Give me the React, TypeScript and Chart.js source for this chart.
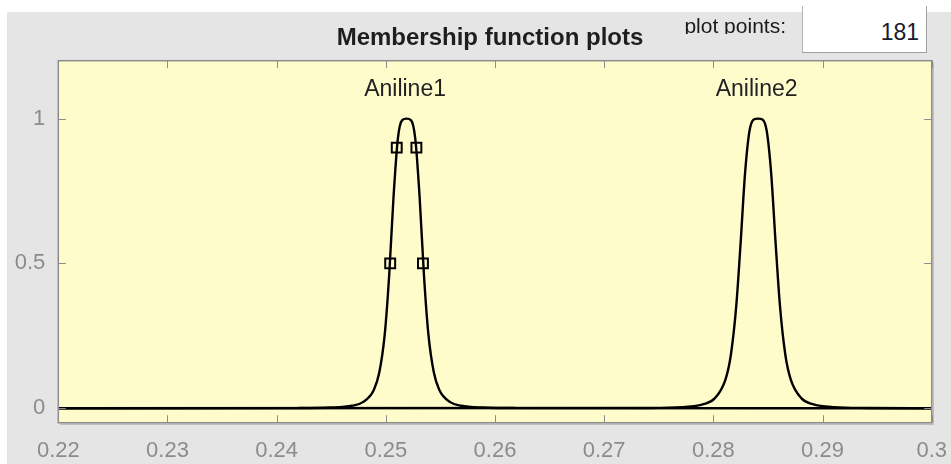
import React, { useEffect, useRef } from "react";
import { Chart, registerables } from "chart.js";

Chart.register(...registerables);

const FONT = "'Liberation Sans', Arial, Helvetica, sans-serif";

const TITLE = "Membership function plots";
const PLOT_POINTS_LABEL = "plot points:";
const PLOT_POINTS_VALUE = "181";

const X_TICKS = [0.22, 0.23, 0.24, 0.25, 0.26, 0.27, 0.28, 0.29, 0.3];
const X_TICK_LABELS = ["0.22", "0.23", "0.24", "0.25", "0.26", "0.27", "0.28", "0.29", "0.3"];
const Y_TICKS = [0, 0.5, 1];
const Y_TICK_LABELS = ["0", "0.5", "1"];

const MF_NAMES = ["Aniline1", "Aniline2"];
const MF_PEAKS = [0.2519, 0.2841];
const MF_LABEL_Y = 1.1;

const ANILINE1_X = [0.22, 0.2419, 0.2449, 0.2469, 0.2479, 0.2489, 0.2494, 0.2499, 0.2503, 0.2507, 0.2511, 0.2515, 0.2519, 0.2523, 0.2527, 0.2531, 0.2535, 0.2539, 0.2544, 0.2549, 0.2559, 0.2569, 0.2589, 0.2619, 0.3];
const ANILINE1_Y = [0, 0.0005, 0.0023, 0.0087, 0.021, 0.063, 0.123, 0.255, 0.455, 0.726, 0.93, 0.995, 1, 0.995, 0.93, 0.726, 0.455, 0.255, 0.123, 0.063, 0.021, 0.0087, 0.0023, 0.0005, 0];

const ANILINE2_X = [0.22, 0.2741, 0.2771, 0.2791, 0.2801, 0.2811, 0.2816, 0.2821, 0.2825, 0.2829, 0.2833, 0.2837, 0.2841, 0.2845, 0.2849, 0.2853, 0.2857, 0.2861, 0.2866, 0.2871, 0.2881, 0.2891, 0.2911, 0.2941, 0.3];
const ANILINE2_Y = [0, 0.0009, 0.0036, 0.0138, 0.033, 0.098, 0.183, 0.354, 0.572, 0.809, 0.955, 0.997, 1, 0.997, 0.955, 0.809, 0.572, 0.354, 0.183, 0.098, 0.033, 0.0138, 0.0036, 0.0009, 0];

const MARKER_X = [0.2504, 0.251, 0.2528, 0.2534];
const MARKER_Y = [0.5, 0.9, 0.9, 0.5];

const TITLE_CENTER_X = 490;
const TITLE_MIDDLE_Y = 38.3;

const matlabAxesPlugin = {
  id: "matlabAxes",
  beforeDraw(chart: any) {
    const { ctx, chartArea: a } = chart;
    ctx.save();
    ctx.fillStyle = "#fffccc";
    ctx.fillRect(a.left, a.top, a.right - a.left, a.bottom - a.top);
    ctx.restore();
  },
  afterDraw(chart: any) {
    const { ctx, chartArea: a, scales } = chart;
    const xs = scales.x;
    const ys = scales.y;
    ctx.save();
    // shadow on right / bottom
    ctx.strokeStyle = "#bdbdbd";
    ctx.lineWidth = 1.5;
    ctx.beginPath();
    ctx.moveTo(a.right + 1.5, a.top + 2);
    ctx.lineTo(a.right + 1.5, a.bottom + 1.5);
    ctx.lineTo(a.left + 2, a.bottom + 1.5);
    ctx.stroke();
    // box
    ctx.strokeStyle = "#8c8c8c";
    ctx.lineWidth = 1.5;
    ctx.strokeRect(a.left, a.top, a.right - a.left, a.bottom - a.top);
    // inside ticks
    const tl = 7.5;
    ctx.lineWidth = 1;
    ctx.strokeStyle = "#8c8c8c";
    ctx.beginPath();
    X_TICKS.forEach((v) => {
      const px = Math.round(xs.getPixelForValue(v)) + 0.5;
      ctx.moveTo(px, a.bottom);
      ctx.lineTo(px, a.bottom - tl);
      ctx.moveTo(px, a.top);
      ctx.lineTo(px, a.top + tl);
    });
    Y_TICKS.forEach((v) => {
      const py = Math.round(ys.getPixelForValue(v)) + 0.5;
      ctx.moveTo(a.left, py);
      ctx.lineTo(a.left + tl, py);
      ctx.moveTo(a.right, py);
      ctx.lineTo(a.right - tl, py);
    });
    ctx.stroke();
    // membership function names
    ctx.fillStyle = "#222222";
    ctx.font = `23px ${FONT}`;
    ctx.textAlign = "center";
    ctx.textBaseline = "middle";
    MF_NAMES.forEach((name, i) => {
      ctx.fillText(name, xs.getPixelForValue(MF_PEAKS[i]) - 1.5, ys.getPixelForValue(MF_LABEL_Y));
    });
    // title
    ctx.fillStyle = "#1e1e1e";
    ctx.font = `bold 24px ${FONT}`;
    ctx.fillText(TITLE, TITLE_CENTER_X, TITLE_MIDDLE_Y);
    ctx.restore();
  },
};

export default function App() {
  const canvasRef = useRef<HTMLCanvasElement | null>(null);

  useEffect(() => {
    const canvas = canvasRef.current;
    if (!canvas) return;
    const curve = (xsArr: number[], ysArr: number[]) => xsArr.map((x, i) => ({ x, y: ysArr[i] }));
    const chart = new Chart(canvas, {
      type: "line",
      data: {
        datasets: [
          {
            label: MF_NAMES[0],
            data: curve(ANILINE1_X, ANILINE1_Y),
            borderColor: "#000000",
            borderWidth: 2.4,
            pointRadius: 0,
            fill: false,
            cubicInterpolationMode: "monotone",
          },
          {
            label: MF_NAMES[1],
            data: curve(ANILINE2_X, ANILINE2_Y),
            borderColor: "#000000",
            borderWidth: 2.4,
            pointRadius: 0,
            fill: false,
            cubicInterpolationMode: "monotone",
          },
          {
            type: "scatter",
            label: "params",
            data: curve(MARKER_X, MARKER_Y),
            showLine: false,
            pointStyle: "rect",
            pointRadius: 7,
            borderColor: "#000000",
            borderWidth: 2,
            backgroundColor: "rgba(0,0,0,0)",
          } as any,
        ],
      },
      options: {
        animation: false,
        responsive: false,
        maintainAspectRatio: false,
        events: [],
        layout: { padding: { left: 0, right: 19.3, top: 60.7, bottom: 0 } },
        plugins: {
          legend: { display: false },
          tooltip: { enabled: false },
          title: { display: false },
        },
        scales: {
          x: {
            type: "linear",
            min: 0.22,
            max: 0.3,
            grid: { display: false, drawTicks: true, tickLength: 15.5 },
            border: { display: false },
            afterBuildTicks: (s: any) => {
              s.ticks = X_TICKS.map((v) => ({ value: v }));
            },
            afterFit: (s: any) => {
              s.height = 41.3;
            },
            ticks: {
              color: "#8c8c8c",
              font: { family: FONT, size: 22 },
              padding: 0,
              maxRotation: 0,
              autoSkip: false,
              callback: (_v: any, i: number) => X_TICK_LABELS[i],
            },
          },
          y: {
            type: "linear",
            min: -0.05,
            max: 1.2,
            grid: { display: false, drawTicks: true, tickLength: 13 },
            border: { display: false },
            afterBuildTicks: (s: any) => {
              s.ticks = Y_TICKS.map((v) => ({ value: v }));
            },
            afterFit: (s: any) => {
              s.width = 58.3;
            },
            ticks: {
              color: "#8c8c8c",
              font: { family: FONT, size: 22 },
              padding: 0,
              autoSkip: false,
              callback: (_v: any, i: number) => Y_TICK_LABELS[i],
            },
          },
        },
      },
      plugins: [matlabAxesPlugin],
    } as any);
    return () => chart.destroy();
  }, []);

  return (
    <div style={{ position: "absolute", left: 0, top: 0, width: 951, height: 464, background: "#ffffff", overflow: "hidden" }}>
      <div style={{ position: "absolute", left: 7, top: 12, right: 0, bottom: 0, background: "#e5e5e5" }} />
      <canvas ref={canvasRef} width={951} height={464} style={{ position: "absolute", left: 0, top: 0, width: 951, height: 464 }} />
      <div
        style={{
          position: "absolute",
          left: 600,
          width: 186,
          top: 12,
          height: 21.5,
          boxSizing: "border-box",
          paddingTop: 1.75,
          overflow: "hidden",
          textAlign: "right",
          font: `21px ${FONT}`,
          lineHeight: "24px",
          color: "#1a1a1a",
          whiteSpace: "nowrap",
        }}
      >
        {PLOT_POINTS_LABEL}
      </div>
      <div
        style={{
          position: "absolute",
          left: 802,
          top: 6,
          width: 125,
          height: 47,
          boxSizing: "border-box",
          background: "#ffffff",
          borderLeft: "1px solid #b4b4b4",
          borderRight: "1px solid #a0a0a0",
          borderBottom: "1px solid #a0a0a0",
          paddingTop: 13,
          paddingRight: 7,
          textAlign: "right",
          font: `23px ${FONT}`,
          lineHeight: "26px",
          color: "#1a1a2e",
        }}
      >
        {PLOT_POINTS_VALUE}
      </div>
    </div>
  );
}
